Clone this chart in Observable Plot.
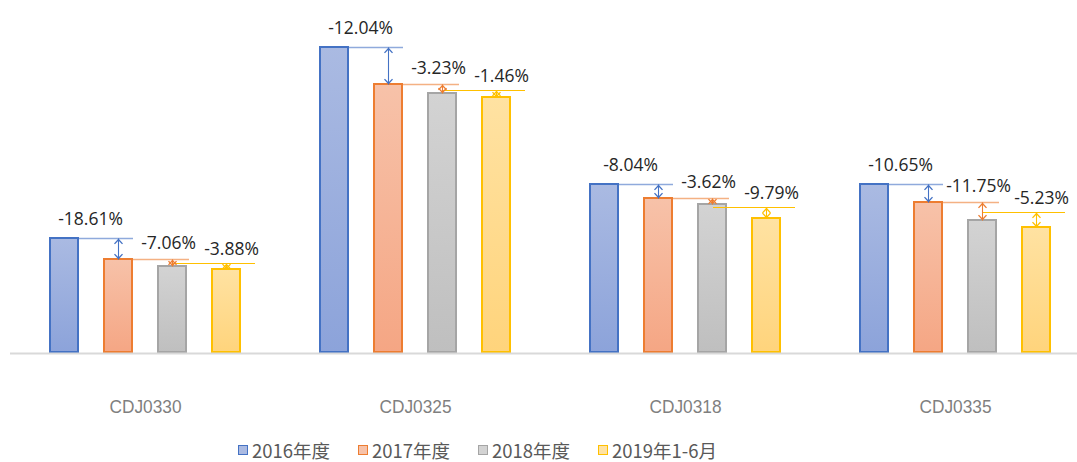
<!DOCTYPE html>
<html><head><meta charset="utf-8">
<script src="https://cdn.jsdelivr.net/npm/d3@7"></script>
<script src="https://cdn.jsdelivr.net/npm/@observablehq/plot@0.6"></script>
<style>
body{margin:0;background:#fff;width:1077px;height:462px;overflow:hidden;position:relative;}
#chart svg{display:block;}
#legend{position:absolute;left:238px;top:437px;display:flex;font-family:"Noto Sans CJK SC",sans-serif;font-size:18.5px;color:#595959;line-height:26px;}
.item{width:120px;display:flex;align-items:center;white-space:nowrap;}
.sw{width:8px;height:8px;border:1.5px solid;margin-right:4px;}
</style></head><body><div id="chart"></div><div id="legend"></div>
<script>
const groups = ["CDJ0330", "CDJ0325", "CDJ0318", "CDJ0335"];
const series = ["2016年度", "2017年度", "2018年度", "2019年1-6月"];
const values2016 = [114, 305, 168, 168];
const values2017 = [93, 268, 154, 150];
const values2018 = [86, 259, 148, 132];
const values2019 = [83, 255, 134, 125];
const ref2019 = [89, 262, 145, 140];
const changes2017 = ["-18.61%", "-12.04%", "-8.04%", "-10.65%"];
const changes2018 = ["-7.06%", "-3.23%", "-3.62%", "-11.75%"];
const changes2019 = ["-3.88%", "-1.46%", "-9.79%", "-5.23%"];

const strokes = ["#4472C4", "#ED7D31", "#A5A5A5", "#FFC000"];
const gradTop = ["#AABAE2", "#F7C2A9", "#D3D3D3", "#FFE2A2"];
const gradBot = ["#8CA3DA", "#F5A684", "#BFBFBF", "#FFD47C"];

const allValues = [values2016, values2017, values2018, values2019];
const bars = [];
groups.forEach((g, i) => series.forEach((s, j) => bars.push({group: g, series: s, idx: j, value: allValues[j][i]})));

const line1 = groups.map((g, i) => ({group: g, series: series[1], level: values2016[i]}));
const line2 = groups.map((g, i) => ({group: g, series: series[2], level: values2017[i]}));
const line3 = groups.map((g, i) => ({group: g, series: series[3], level: ref2019[i]}));

function arrowRows(k, fromArr, toArr, color) {
  return groups.map((g, i) => ({group: g, series: series[k], from: fromArr[i], to: toArr[i], color}));
}
const arrows = [
  ...arrowRows(1, values2016, values2017, "#4472C4"),
  ...arrowRows(2, values2017, values2018, "#ED7D31"),
  ...arrowRows(3, ref2019, values2019, "#FFC000")
];
const lab1 = groups.map((g, i) => ({group: g, series: series[0], level: values2016[i], text: changes2017[i]}));
const lab2 = groups.map((g, i) => ({group: g, series: series[2], level: values2017[i], text: changes2018[i]}));
const lab3 = groups.map((g, i) => ({group: g, series: series[3], level: ref2019[i], text: changes2019[i]}));

// open chevron arrowhead symbol, apex at the anchor point, pointing up
const chevron = {
  draw(context, size) {
    const r = Math.sqrt(size / Math.PI);
    context.moveTo(-r, r * 1.1);
    context.lineTo(0, 0);
    context.lineTo(r, r * 1.1);
  }
};

const labelFont = {fontFamily: "'Open Sans', 'Liberation Sans', sans-serif", fontSize: 17.5, fill: "#262626"};

const plot = Plot.plot({
  width: 1077,
  height: 430,
  marginTop: 47,
  marginBottom: 78,
  marginLeft: 0,
  marginRight: 0,
  style: {fontFamily: "'Liberation Sans', sans-serif", fontSize: "19px", color: "#7f7f7f", background: "white", overflow: "visible"},
  fx: {domain: groups, range: [10, 1090], padding: 0, axis: "bottom", tickSize: 0, tickPadding: 47, label: null},
  x: {domain: series, paddingInner: 0.436, paddingOuter: 0.673, axis: null},
  y: {domain: [0, 305], axis: null},
  marks: [
    Plot.barY(bars, {fx: "group", x: "series", y: "value", fill: d => `url(#grad${d.idx})`, stroke: d => strokes[d.idx], strokeWidth: 2, insetLeft: 1, insetRight: 1}),
    Plot.ruleY([0], {stroke: "#D9D9D9", strokeWidth: 2, dy: 1}),
    Plot.tickY(line1, {fx: "group", x: "series", y: "level", stroke: "#8FAADC", strokeWidth: 1.5, insetLeft: -24, insetRight: 0}),
    Plot.tickY(line2, {fx: "group", x: "series", y: "level", stroke: "#F4B183", strokeWidth: 1.5, insetLeft: -24, insetRight: -2}),
    Plot.tickY(line3, {fx: "group", x: "series", y: "level", stroke: "#FFC000", strokeWidth: 1.2, insetLeft: -38, insetRight: -14}),
    Plot.link(arrows, {fx: "group", x1: "series", x2: "series", y1: "from", y2: "to", stroke: "color", strokeWidth: 1.1}),
    Plot.dot(arrows, {fx: "group", x: "series", y: "from", symbol: chevron, r: 4, fill: "none", stroke: "color", strokeWidth: 1.3, dy: 1}),
    Plot.dot(arrows, {fx: "group", x: "series", y: "to", symbol: chevron, r: 4, rotate: 180, fill: "none", stroke: "color", strokeWidth: 1.3, dy: -1}),
    Plot.text(lab1, {fx: "group", x: "series", y: "level", text: "text", dx: 26, dy: -19, ...labelFont}),
    Plot.text(lab2, {fx: "group", x: "series", y: "level", text: "text", dx: -4, dy: -16, ...labelFont}),
    Plot.text(lab3, {fx: "group", x: "series", y: "level", text: "text", dx: 5, dy: -14, ...labelFont})
  ]
});

const svg = plot.tagName.toLowerCase() === "svg" ? plot : plot.querySelector("svg");
const defs = d3.select(svg).insert("defs", ":first-child");
strokes.forEach((c, j) => {
  const lg = defs.append("linearGradient").attr("id", `grad${j}`).attr("x1", 0).attr("y1", 0).attr("x2", 0).attr("y2", 1);
  lg.append("stop").attr("offset", "0%").attr("stop-color", gradTop[j]);
  lg.append("stop").attr("offset", "100%").attr("stop-color", gradBot[j]);
});
// condensed look for the group labels
d3.select(svg).selectAll("text").filter(function() { return groups.includes(this.textContent); })
  .attr("textLength", 72).attr("lengthAdjust", "spacingAndGlyphs");
document.getElementById("chart").appendChild(plot);

const legend = d3.select("#legend");
series.forEach((s, j) => {
  const it = legend.append("div").attr("class", "item");
  it.append("div").attr("class", "sw").style("border-color", strokes[j]).style("background", gradTop[j]);
  it.append("span").text(s);
});
</script>
</body></html>
